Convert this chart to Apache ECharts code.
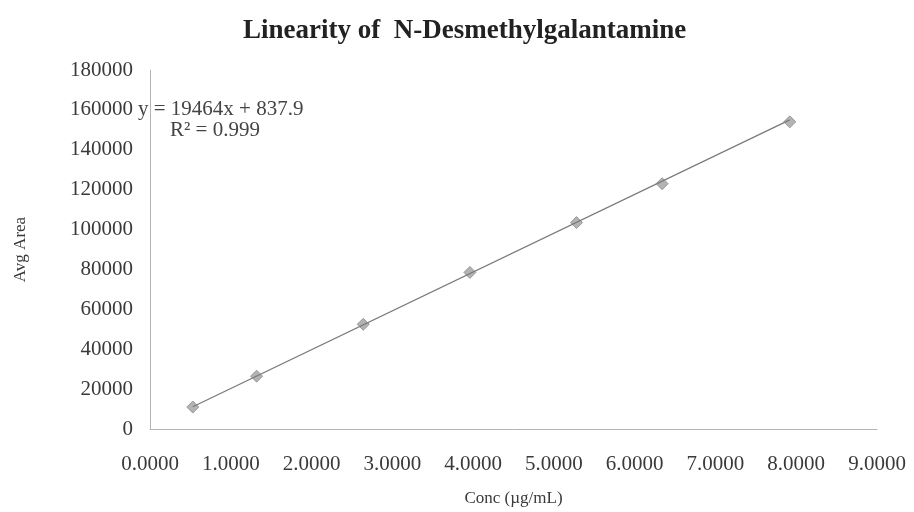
<!DOCTYPE html>
<html>
<head>
<meta charset="utf-8">
<script src="https://cdn.jsdelivr.net/npm/echarts@6/dist/echarts.min.js"></script>
<style>
  html, body { margin: 0; padding: 0; background: #ffffff; }
  #chart { width: 914px; height: 512px; }
</style>
</head>
<body>
<div id="chart"></div>
<script>
// Calibration standards: concentration (µg/mL) vs mean peak area
const concValues = [0.53, 1.32, 2.64, 3.96, 5.28, 6.34, 7.92];
const avgAreaValues = [11000, 26500, 52500, 78500, 103500, 123000, 154000];

// Least-squares fit reported on the chart
const fitSlope = 19464;
const fitIntercept = 837.9;
const fitR2 = '0.999';

const titleText = 'Linearity of  N-Desmethylgalantamine';
const xAxisTitle = 'Conc (µg/mL)';
const yAxisTitle = 'Avg Area';

const points = concValues.map((c, i) => [c, avgAreaValues[i]]);
const xLo = Math.min(...concValues);
const xHi = Math.max(...concValues);
const trend = [xLo, xHi].map(x => [x, fitSlope * x + fitIntercept]);

const serif = '"Liberation Serif", "Times New Roman", serif';
const chart = echarts.init(document.getElementById('chart'), null, { renderer: 'canvas' });

chart.setOption({
  backgroundColor: '#ffffff',
  animation: false,
  title: {
    text: titleText,
    left: 238,
    top: 13,
    textStyle: { fontFamily: serif, fontSize: 27, fontWeight: 'bold', color: '#222222' }
  },
  grid: { left: 150, right: 37, top: 70, bottom: 82 },
  xAxis: {
    type: 'value',
    min: 0, max: 9, interval: 1,
    name: xAxisTitle,
    nameLocation: 'middle',
    nameGap: 61,
    nameTextStyle: { fontFamily: serif, fontSize: 17, color: '#3a3a3a' },
    axisLine: { lineStyle: { color: '#b4b4b4', width: 1 } },
    axisTick: { show: false },
    splitLine: { show: false },
    axisLabel: {
      margin: 25,
      fontFamily: serif, fontSize: 21, color: '#3a3a3a',
      formatter: v => v.toFixed(4)
    }
  },
  yAxis: {
    type: 'value',
    min: 0, max: 180000, interval: 20000,
    name: yAxisTitle,
    nameLocation: 'middle',
    nameGap: 121,
    nameRotate: 90,
    nameTextStyle: { fontFamily: serif, fontSize: 17, color: '#3a3a3a' },
    axisLine: { show: true, lineStyle: { color: '#b4b4b4', width: 1 } },
    axisTick: { show: false },
    splitLine: { show: false },
    axisLabel: {
      margin: 17, fontFamily: serif, fontSize: 21, color: '#3a3a3a',
      formatter: v => String(v)
    }
  },
  graphic: [
    {
      type: 'text', left: 138, top: 99,
      style: { text: 'y = ' + fitSlope + 'x + ' + fitIntercept, font: '21px ' + serif, fill: '#444444' }
    },
    {
      type: 'text', left: 170, top: 120,
      style: { text: 'R² = ' + fitR2, font: '21px ' + serif, fill: '#444444' }
    }
  ],
  series: [
    {
      type: 'scatter',
      data: points,
      symbol: 'diamond',
      symbolSize: 12,
      itemStyle: { color: '#a0a0a0', borderColor: '#8a8a8a', borderWidth: 1 },
      z: 2
    },
    {
      type: 'line',
      data: trend,
      showSymbol: false,
      lineStyle: { color: '#7a7a7a', width: 1.3 },
      z: 3
    }
  ]
});
</script>
</body>
</html>
